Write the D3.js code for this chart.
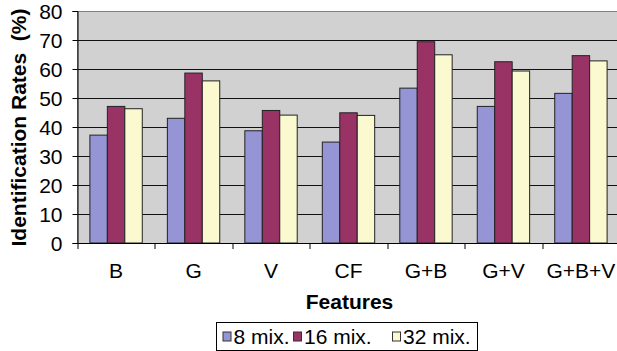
<!DOCTYPE html>
<html>
<head>
<meta charset="utf-8">
<script src="https://cdn.jsdelivr.net/npm/d3@7"></script>
<style>
  html, body { margin: 0; padding: 0; background: #fff; overflow: hidden; }
  svg { display: block; font-family: "Liberation Sans", Arial, sans-serif; }
</style>
</head>
<body>
<svg id="chart" width="617" height="351"></svg>
<script>
// Identification rates by feature set and mixture count
const categories = ["B", "G", "V", "CF", "G+B", "G+V", "G+B+V"];
const seriesNames = ["8 mix.", "16 mix.", "32 mix."];
const mix8  = [37.2, 43.0, 38.7, 34.8, 53.4, 47.1, 51.6];
const mix16 = [47.1, 58.6, 45.7, 44.9, 69.4, 62.5, 64.6];
const mix32 = [46.3, 55.9, 44.1, 44.0, 64.9, 59.3, 62.8];
const yTicks = [0, 10, 20, 30, 40, 50, 60, 70, 80];
const colors = ["#9595d6", "#993366", "#fbf9cf"];

const series = [mix8, mix16, mix32];
const svg = d3.select("#chart");
const margin = { left: 77.5, top: 11 };
const plotW = 542, plotH = 232;
const fontSize = 21;

const g = svg.append("g").attr("transform", `translate(${margin.left},${margin.top})`);

const x = d3.scaleBand().domain(categories).range([0, plotW]).paddingInner(0.324).paddingOuter(0.16);
const xs = d3.scaleBand().domain(d3.range(seriesNames.length)).range([0, x.bandwidth()]);
const y = d3.scaleLinear().domain([0, 80]).range([plotH, 0]);

// plot background
g.append("rect").attr("x", 0).attr("y", 0.5).attr("width", plotW).attr("height", plotH)
  .attr("fill", "#d1d1d1").attr("stroke", "#808080").attr("stroke-width", 1);

// horizontal gridlines
g.append("g").selectAll("line").data(yTicks.filter(t => t > 0)).join("line")
  .attr("x1", 0).attr("x2", plotW)
  .attr("y1", d => Math.round(y(d)) + 0.5).attr("y2", d => Math.round(y(d)) + 0.5)
  .attr("stroke", d => d === 80 ? "#808080" : "#111").attr("stroke-width", 1);

// bars
const groups = g.append("g").selectAll("g").data(categories).join("g")
  .attr("transform", d => `translate(${x(d)},0)`);
groups.selectAll("rect").data((d, i) => series.map((s, k) => ({ k, v: s[i] }))).join("rect")
  .attr("x", d => xs(d.k))
  .attr("y", d => y(d.v))
  .attr("width", xs.bandwidth())
  .attr("height", d => y(0) - y(d.v))
  .attr("fill", d => colors[d.k])
  .attr("stroke", "#222")
  .attr("stroke-width", 1);

// y axis
const yAxis = g.append("g").call(d3.axisLeft(y).tickValues(yTicks).tickSize(5).tickPadding(10));
yAxis.select(".domain").attr("stroke", "#000");
yAxis.selectAll(".tick line").attr("stroke", "#000");
yAxis.selectAll("text").attr("font-size", fontSize).attr("fill", "#000")
  .attr("font-family", "'Liberation Sans', Arial, sans-serif").attr("dy", "0.36em");

// x axis with ticks between categories
const xAxisG = g.append("g").attr("transform", `translate(0,${plotH})`);
xAxisG.append("line").attr("x1", 0).attr("x2", plotW).attr("y1", 0.5).attr("y2", 0.5).attr("stroke", "#000");
const step = x.step();
const edges = d3.range(categories.length).map(i => Math.round(i * step) + 0.5);
xAxisG.selectAll("line.tk").data(edges).join("line").attr("class", "tk")
  .attr("x1", d => d).attr("x2", d => d).attr("y1", 0).attr("y2", 6).attr("stroke", "#000");
xAxisG.selectAll("text").data(categories).join("text")
  .attr("x", d => x(d) + x.bandwidth() / 2)
  .attr("y", 278 - margin.top - plotH)
  .attr("text-anchor", "middle")
  .attr("font-size", fontSize)
  .text(d => d);

// axis titles
svg.append("text")
  .attr("transform", `translate(26,127.5) rotate(-90)`)
  .attr("text-anchor", "middle")
  .attr("font-size", fontSize).attr("font-weight", "bold")
  .attr("xml:space", "preserve")
  .text("Identification Rates  (%)");

svg.append("text")
  .attr("x", 349.5)
  .attr("y", 309)
  .attr("text-anchor", "middle")
  .attr("font-size", fontSize).attr("font-weight", "bold")
  .text("Features");

// legend
const legend = svg.append("g").attr("transform", "translate(216.5,322.5)");
legend.append("rect").attr("width", 261).attr("height", 28).attr("fill", "#fff").attr("stroke", "#000");
const legendX = [6.5, 77, 176];
seriesNames.forEach((name, k) => {
  const item = legend.append("g").attr("transform", `translate(${legendX[k]},0)`);
  item.append("rect").attr("x", 0).attr("y", 9.5).attr("width", 8).attr("height", 9)
    .attr("fill", colors[k]).attr("stroke", "#333");
  item.append("text").attr("x", 10.5).attr("y", 21.5).attr("font-size", fontSize).text(name);
});
</script>
</body>
</html>
